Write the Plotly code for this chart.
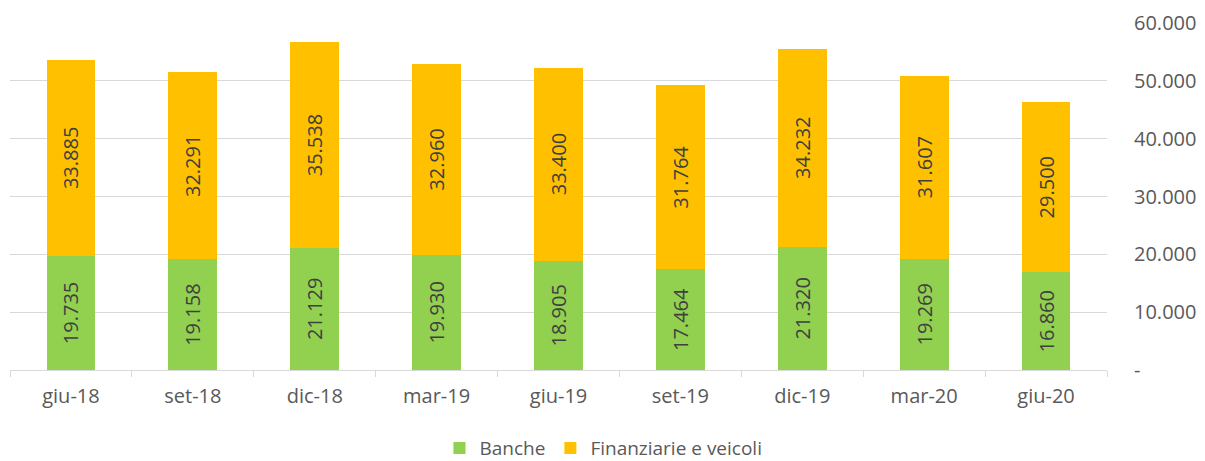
import plotly.graph_objects as go

categories = ["giu-18", "set-18", "dic-18", "mar-19", "giu-19", "set-19", "dic-19", "mar-20", "giu-20"]
banche = [19735, 19158, 21129, 19930, 18905, 17464, 21320, 19269, 16860]
finanziarie = [33885, 32291, 35538, 32960, 33400, 31764, 34232, 31607, 29500]
tick_vals = [0, 10000, 20000, 30000, 40000, 50000, 60000]
tick_text = ["-", "10.000", "20.000", "30.000", "40.000", "50.000", "60.000"]

def fmt(v):
    return f"{v:,}".replace(",", ".")

FONT = "'Open Sans', Lato, sans-serif"
FS = 20

fig = go.Figure()
fig.add_trace(go.Bar(
    x=categories, y=banche, name="Banche",
    marker=dict(color="#92D050", line=dict(width=0)),
    text=[fmt(v) for v in banche], textposition="inside", textangle=-90,
    insidetextanchor="middle", textfont=dict(color="#404040", size=FS, family=FONT),
    hoverinfo="skip",
))
fig.add_trace(go.Bar(
    x=categories, y=finanziarie, name="Finanziarie e veicoli",
    marker=dict(color="#FFC000", line=dict(width=0)),
    text=[fmt(v) for v in finanziarie], textposition="inside", textangle=-90,
    insidetextanchor="middle", textfont=dict(color="#404040", size=FS, family=FONT),
    hoverinfo="skip",
))

fig.update_layout(
    barmode="stack",
    bargap=0.6,
    width=1197, height=453,
    margin=dict(l=2, r=98, t=15, b=91, autoexpand=False),
    paper_bgcolor="white", plot_bgcolor="white",
    font=dict(family=FONT, size=FS, color="#595959"),
    showlegend=True,
    legend=dict(orientation="h", x=0.541, xanchor="center", y=-0.225, yanchor="middle",
                font=dict(size=19, color="#595959"), itemsizing="constant",
                traceorder="normal", itemwidth=30),
    xaxis=dict(
        automargin=False,
        showline=True, linecolor="#D9D9D9", linewidth=1,
        ticks="outside", tickson="boundaries", ticklen=6, tickcolor="#D9D9D9",
        showgrid=False, tickfont=dict(size=FS, color="#595959"),
        ticklabelstandoff=8,
    ),
    yaxis=dict(
        automargin=False,
        side="right", range=[0, 60000], tickvals=tick_vals, ticktext=tick_text,
        showgrid=True, gridcolor="#D9D9D9", gridwidth=1, zeroline=False,
        showline=False, ticks="", ticklabelstandoff=26,
        tickfont=dict(size=FS, color="#595959"),
    ),
)

fig.write_html("out.html")
